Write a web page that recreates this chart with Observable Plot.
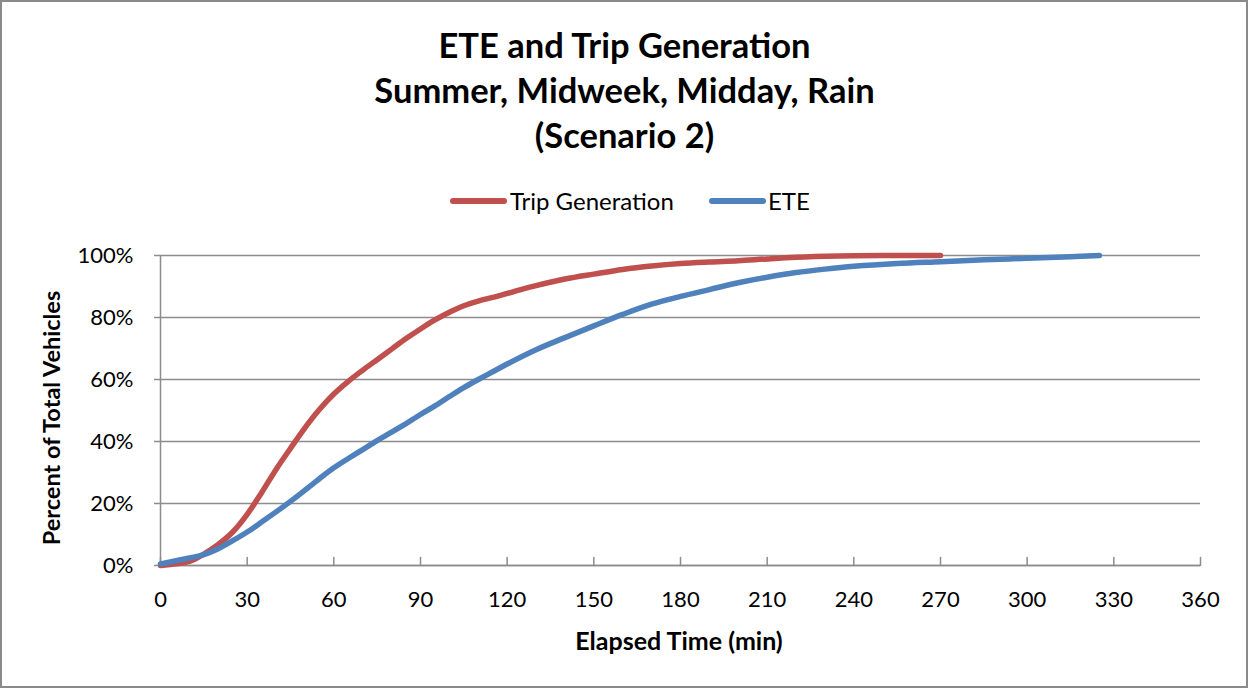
<!DOCTYPE html>
<html><head><meta charset="utf-8">
<script src="https://cdn.jsdelivr.net/npm/d3@7"></script>
<script src="https://cdn.jsdelivr.net/npm/@observablehq/plot@0.6"></script>
<style>
body{margin:0;background:#fff;font-family:Lato,"Open Sans",sans-serif;color:#000;}
#wrap{position:relative;width:1249px;height:688px;overflow:hidden;background:#fff;}
#border{position:absolute;left:0;top:0;width:1248px;height:688px;box-sizing:border-box;border:2px solid #8a8a8a;pointer-events:none;}
#title{position:absolute;left:0;top:22px;width:1249px;text-align:center;font-weight:bold;font-size:34.5px;line-height:45px;}
.leg{position:absolute;top:187px;font-size:24px;line-height:28px;white-space:nowrap;}
.sw{position:absolute;height:6px;border-radius:3px;top:198px;}
#xlab{position:absolute;left:429px;width:500px;top:625px;text-align:center;font-weight:bold;font-size:25px;line-height:30px;}
#ylab{position:absolute;left:51px;top:418px;transform:translate(-50%,-50%) rotate(-90deg);font-weight:bold;font-size:23.5px;white-space:nowrap;}
#chart{position:absolute;left:0;top:230px;}
</style></head>
<body>
<div id="wrap">
  <div id="title"></div>
  <div id="legend"></div>
  <div id="chart"></div>
  <div id="xlab"></div>
  <div id="ylab"></div>
  <div id="border"></div>
</div>
<script>
const titleLines = ["ETE and Trip Generation","Summer, Midweek, Midday, Rain","(Scenario 2)"];
const xTitle = "Elapsed Time (min)";
const yTitle = "Percent of Total Vehicles";
const seriesNames = ["Trip Generation","ETE"];
const seriesColors = ["#C0504D","#4F81BD"];
const xTicks = [0,30,60,90,120,150,180,210,240,270,300,330,360];
const yTicks = [0,20,40,60,80,100];

const timeTrip = [0,10,15,20,25,30,35,40,45,50,55,60,65,70,75,80,85,90,95,100,105,110,118,125,130,140,150,160,170,180,190,200,210,220,235,250,270];
const pctTrip  = [0,1.3,3.7,6.8,10.8,16.5,23.5,31,37.8,44.4,50.3,55.3,59.4,63,66.4,69.8,73.2,76.3,79.2,81.7,83.8,85.3,87.2,89.1,90.3,92.4,94,95.5,96.6,97.4,97.9,98.3,98.9,99.4,99.8,100,100];

const timeETE = [0,10,15,20,25,30,35,40,45,50,55,60,65,70,75,80,85,90,95,100,105,110,115,120,130,140,150,160,170,180,190,200,210,220,230,240,255,270,285,300,315,325];
const pctETE  = [0.5,2.4,3.5,5.4,8,10.8,14,17.3,20.7,24.3,28,31.5,34.5,37.4,40.3,43,45.8,48.7,51.5,54.5,57.4,60,62.5,65,69.6,73.5,77.3,81,84.3,86.8,89,91.2,93,94.5,95.6,96.5,97.4,98,98.6,99.1,99.6,100];

const trip = timeTrip.map((t,i)=>({t, p:pctTrip[i]}));
const ete = timeETE.map((t,i)=>({t, p:pctETE[i]}));

document.getElementById("title").innerHTML = titleLines.map(s=>`<div>${s}</div>`).join("");
document.getElementById("xlab").textContent = xTitle;
document.getElementById("ylab").textContent = yTitle;
const leg = document.getElementById("legend");
const legPos = [{sw:450, tx:510},{sw:709, tx:768}];
seriesNames.forEach((n,i)=>{
  const s=document.createElement("div"); s.className="sw"; s.style.left=legPos[i].sw+"px"; s.style.width="57px"; s.style.background=seriesColors[i]; leg.appendChild(s);
  const t=document.createElement("div"); t.className="leg"; t.style.left=legPos[i].tx+"px"; t.textContent=n; leg.appendChild(t);
});

const grid = "#8c8c8c";
const chart = Plot.plot({
  width:1249, height:458,
  marginTop:25, marginBottom:123, marginLeft:160, marginRight:49,
  x:{domain:[0,360]},
  y:{domain:[0,100]},
  style:{fontFamily:'Lato,"Open Sans",sans-serif', fontSize:"22px", color:"#000", background:"transparent", overflow:"visible"},
  marks:[
    Plot.gridY(yTicks,{stroke:grid, strokeOpacity:1, strokeWidth:1.5}),
    Plot.ruleX([0],{stroke:grid, strokeWidth:1.5}),
    Plot.ruleY([0],{stroke:grid, strokeWidth:1.5}),
    Plot.axisY(yTicks,{tickSize:6, tickPadding:21, tickFormat:d=>d+"%", stroke:grid, strokeWidth:1.5, fontSize:22, label:null}),
    Plot.axisX(xTicks,{tickSize:0, tickPadding:26, tickFormat:d=>String(d), fontSize:22, label:null}),
    Plot.vector(xTicks,{x:d=>d, y:0, length:8, anchor:"start", rotate:0,
      shape:{draw(c,l){c.moveTo(0,0);c.lineTo(0,-l);}}, stroke:grid, strokeWidth:1.5}),
    Plot.line(trip,{x:"t", y:"p", stroke:seriesColors[0], strokeWidth:5.5, curve:"catmull-rom", strokeLinecap:"round"}),
    Plot.line(ete,{x:"t", y:"p", stroke:seriesColors[1], strokeWidth:5.5, curve:"catmull-rom", strokeLinecap:"round"})
  ]
});
document.getElementById("chart").appendChild(chart);
</script>
</body></html>
